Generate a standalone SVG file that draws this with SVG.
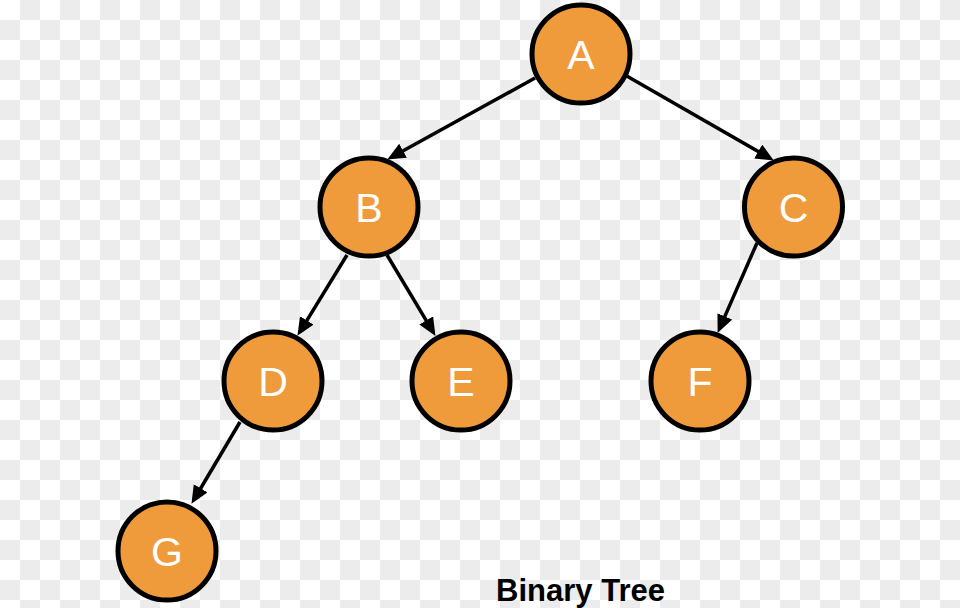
<svg xmlns="http://www.w3.org/2000/svg" width="960" height="608" viewBox="0 0 960 608">
<defs>
<pattern id="checker" x="0" y="0" width="40" height="40" patternUnits="userSpaceOnUse">
<rect x="0" y="0" width="40" height="40" fill="#ffffff"/>
<rect x="20" y="0" width="20" height="20" fill="#ececec"/>
<rect x="0" y="20" width="20" height="20" fill="#ececec"/>
</pattern>
<marker id="arrow" markerUnits="userSpaceOnUse" markerWidth="20" markerHeight="18" refX="6" refY="8" orient="auto">
<path d="M0,0 L18,8 L0,16 z" fill="#000"/>
</marker>
<style>
.node circle { fill: #F09B3B; stroke: #000; stroke-width: 5; }
.node text { fill: #fff; font-family: "Liberation Sans", Arial, Helvetica, sans-serif; font-size: 41px; text-anchor: middle; }
.edge { stroke: #000; stroke-width: 3.5; fill: none; marker-end: url(#arrow); }
.title { font-family: "Liberation Sans", Arial, Helvetica, sans-serif; font-weight: bold; font-size: 31px; text-anchor: middle; fill: #000; }
</style>
</defs>
<rect x="0" y="0" width="960" height="608" fill="url(#checker)"/>
<g id="connectors">
<line class="edge" x1="535" y1="78" x2="397.8" y2="153.7"/>
<line class="edge" x1="625" y1="75" x2="763.4" y2="154.5"/>
<line class="edge" x1="347" y1="255" x2="303.7" y2="325.6"/>
<line class="edge" x1="387" y1="255" x2="429.3" y2="325.6"/>
<line class="edge" x1="757" y1="243" x2="722.4" y2="321.9"/>
<line class="edge" x1="240" y1="422" x2="197.6" y2="493.5"/>
</g>
<g id="node-A" class="node"><circle cx="581" cy="54" r="49"/><text x="581" y="68.5">A</text></g>
<g id="node-B" class="node"><circle cx="369" cy="207" r="49"/><text x="369" y="221.5">B</text></g>
<g id="node-C" class="node"><circle cx="793.5" cy="207" r="49"/><text x="793.5" y="221.5">C</text></g>
<g id="node-D" class="node"><circle cx="273" cy="381" r="49"/><text x="273" y="395.5">D</text></g>
<g id="node-E" class="node"><circle cx="461" cy="381" r="49"/><text x="461" y="395.5">E</text></g>
<g id="node-F" class="node"><circle cx="700" cy="381" r="49"/><text x="700" y="395.5">F</text></g>
<g id="node-G" class="node"><circle cx="167" cy="551" r="49"/><text x="167" y="565.5">G</text></g>
<text class="title" x="580.5" y="601">Binary Tree</text>
</svg>
